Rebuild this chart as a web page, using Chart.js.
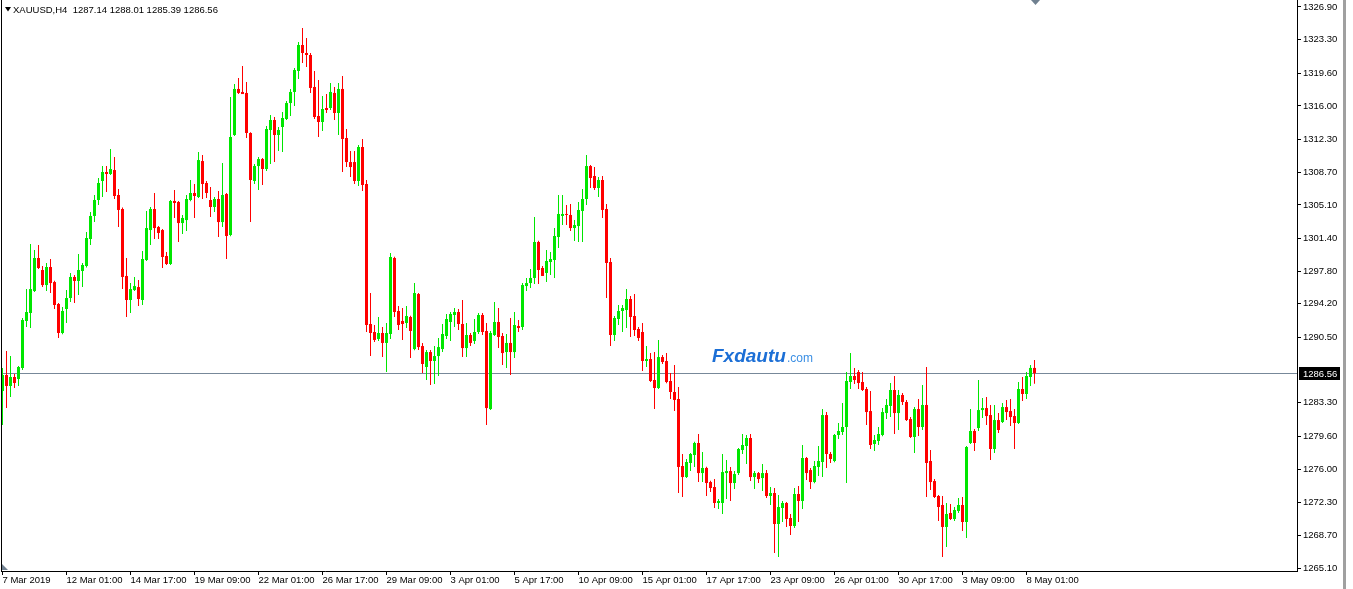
<!DOCTYPE html>
<html>
<head>
<meta charset="utf-8">
<title>XAUUSD H4</title>
<script src="https://cdn.jsdelivr.net/npm/chart.js@4.4.0/dist/chart.umd.min.js"></script>
<style>
  html, body { margin: 0; padding: 0; background: #fff; }
  #wrap { width: 1353px; height: 589px; }
</style>
</head>
<body>
<div id="wrap"><canvas id="chart" width="1353" height="589"></canvas></div>
<script>
const symbol = 'XAUUSD,H4';

// H4 bars, oldest first
const opens = [
  1284.60, 1286.36, 1285.15, 1286.14, 1285.92, 1287.13, 1292.31, 1293.19, 1295.61, 1299.25,
  1297.93, 1296.27, 1298.26, 1296.60, 1294.18, 1290.99, 1293.63, 1294.84, 1297.16, 1296.72,
  1297.82, 1298.37, 1301.34, 1303.88, 1305.64, 1307.73, 1308.72, 1308.50, 1308.94, 1306.19,
  1304.65, 1297.27, 1294.62, 1295.72, 1296.05, 1294.62, 1299.03, 1302.33, 1304.65, 1302.66,
  1302.33, 1299.47, 1298.59, 1305.53, 1305.42, 1303.10, 1303.43, 1305.64, 1306.41, 1305.97,
  1309.93, 1307.51, 1305.64, 1304.87, 1305.75, 1303.21, 1306.30, 1301.78, 1312.80, 1317.87,
  1317.54, 1317.43, 1313.02, 1307.73, 1309.38, 1310.15, 1309.05, 1313.35, 1314.45, 1312.80,
  1313.68, 1314.56, 1316.32, 1317.54, 1319.85, 1322.71, 1321.83, 1321.61, 1318.09, 1314.89,
  1314.23, 1315.77, 1315.77, 1317.43, 1315.22, 1317.87, 1312.47, 1309.82, 1309.82, 1307.73,
  1311.48, 1307.40, 1291.98, 1291.10, 1290.33, 1290.99, 1289.89, 1290.88, 1299.25, 1293.41,
  1292.31, 1292.09, 1292.75, 1289.22, 1295.28, 1289.55, 1287.24, 1288.89, 1287.90, 1288.45,
  1289.22, 1290.66, 1292.20, 1292.97, 1293.30, 1291.98, 1289.33, 1290.77, 1290.11, 1291.10,
  1292.97, 1291.21, 1282.61, 1290.77, 1292.20, 1290.66, 1288.89, 1289.89, 1288.89, 1291.76,
  1291.65, 1296.16, 1296.49, 1297.05, 1301.01, 1298.15, 1297.60, 1298.81, 1299.03, 1301.56,
  1303.88, 1304.10, 1303.99, 1302.55, 1302.77, 1304.43, 1305.75, 1309.38, 1308.28, 1306.96,
  1307.84, 1304.65, 1298.81, 1290.77, 1292.53, 1293.41, 1293.52, 1294.73, 1292.86, 1291.43,
  1291.10, 1287.90, 1288.12, 1285.81, 1284.93, 1288.34, 1287.90, 1285.70, 1284.49, 1283.72,
  1276.34, 1275.12, 1276.67, 1277.55, 1278.87, 1275.56, 1276.12, 1274.57, 1274.02, 1272.26,
  1272.26, 1275.56, 1275.78, 1274.46, 1275.56, 1278.10, 1278.54, 1279.42, 1275.12, 1275.56,
  1275.01, 1275.56, 1273.03, 1273.36, 1269.95, 1271.71, 1272.26, 1270.61, 1269.73, 1273.25,
  1272.48, 1277.22, 1275.89, 1274.57, 1276.23, 1276.78, 1281.95, 1277.66, 1276.89, 1279.75,
  1280.08, 1280.63, 1285.59, 1286.25, 1286.69, 1285.59, 1284.82, 1282.39, 1278.76, 1279.09,
  1279.75, 1282.17, 1282.95, 1284.71, 1282.17, 1284.16, 1283.39, 1281.51, 1279.53, 1282.61,
  1280.63, 1283.06, 1276.89, 1274.68, 1273.03, 1272.04, 1269.62, 1271.16, 1270.50, 1271.38,
  1272.04, 1270.17, 1278.87, 1280.19, 1280.52, 1282.50, 1282.72, 1281.95, 1278.21, 1281.40,
  1281.18, 1282.83, 1282.39, 1281.84, 1281.07, 1284.82, 1284.27, 1286.14, 1287.14
];
const highs = [
  1287.13, 1289.00, 1288.45, 1286.47, 1287.35, 1292.64, 1295.83, 1300.79, 1300.13, 1300.68,
  1298.37, 1298.70, 1299.14, 1296.75, 1294.29, 1293.85, 1295.72, 1297.60, 1297.38, 1299.69,
  1298.70, 1302.11, 1304.32, 1306.19, 1308.06, 1309.38, 1309.38, 1311.26, 1310.37, 1306.85,
  1304.80, 1299.25, 1296.49, 1297.16, 1296.83, 1300.02, 1304.43, 1304.87, 1306.41, 1302.77,
  1302.44, 1299.91, 1305.64, 1306.74, 1305.53, 1303.99, 1306.19, 1307.84, 1307.40, 1310.93,
  1310.60, 1307.73, 1307.07, 1305.97, 1306.63, 1309.71, 1306.41, 1316.98, 1318.42, 1319.08,
  1320.40, 1318.64, 1313.10, 1309.60, 1310.37, 1310.26, 1313.79, 1315.00, 1314.78, 1313.68,
  1315.33, 1316.54, 1317.87, 1320.18, 1323.04, 1324.59, 1323.48, 1321.83, 1319.85, 1318.86,
  1317.09, 1317.31, 1318.53, 1318.09, 1318.53, 1319.30, 1313.46, 1311.04, 1311.04, 1311.70,
  1312.36, 1307.84, 1295.39, 1291.87, 1292.75, 1291.65, 1292.09, 1299.80, 1299.40, 1293.96,
  1293.74, 1293.96, 1292.90, 1296.49, 1295.39, 1289.89, 1289.11, 1289.11, 1289.55, 1290.44,
  1291.98, 1293.08, 1293.30, 1293.74, 1293.63, 1294.62, 1292.09, 1290.99, 1292.53, 1293.19,
  1293.19, 1292.09, 1291.21, 1294.40, 1293.74, 1290.99, 1290.88, 1292.64, 1293.30, 1292.42,
  1296.49, 1297.05, 1298.04, 1303.77, 1301.15, 1298.37, 1300.13, 1299.91, 1302.55, 1306.19,
  1306.19, 1305.09, 1305.20, 1303.43, 1305.42, 1306.85, 1310.60, 1309.50, 1309.27, 1308.17,
  1308.28, 1305.20, 1299.25, 1292.86, 1294.07, 1294.07, 1295.83, 1295.06, 1295.28, 1291.65,
  1292.09, 1289.55, 1288.78, 1288.89, 1290.22, 1288.56, 1288.78, 1286.58, 1287.46, 1285.04,
  1277.66, 1277.11, 1277.77, 1279.00, 1279.86, 1277.88, 1276.25, 1274.70, 1274.90, 1272.70,
  1277.66, 1277.00, 1276.23, 1275.78, 1278.32, 1279.86, 1279.75, 1279.86, 1275.78, 1275.67,
  1276.56, 1275.89, 1274.02, 1273.91, 1273.14, 1272.48, 1272.37, 1271.05, 1273.91, 1274.13,
  1278.65, 1277.33, 1276.12, 1276.89, 1278.54, 1282.61, 1282.28, 1277.88, 1279.86, 1281.07,
  1283.28, 1286.69, 1288.78, 1287.13, 1286.91, 1286.69, 1285.04, 1284.60, 1279.75, 1280.63,
  1282.72, 1283.72, 1285.48, 1286.25, 1284.71, 1284.38, 1283.61, 1281.73, 1282.83, 1283.72,
  1285.26, 1287.24, 1278.10, 1274.90, 1273.14, 1273.03, 1272.26, 1272.15, 1271.82, 1272.81,
  1272.92, 1278.55, 1282.61, 1280.41, 1285.81, 1283.83, 1283.94, 1283.06, 1283.06, 1282.17,
  1283.28, 1283.61, 1283.72, 1282.61, 1285.59, 1286.14, 1286.69, 1287.46, 1288.01
];
const lows = [
  1280.85, 1282.72, 1283.94, 1284.93, 1285.15, 1286.91, 1291.65, 1291.54, 1295.50, 1298.04,
  1296.05, 1295.61, 1295.39, 1293.63, 1290.44, 1290.85, 1292.09, 1294.40, 1294.29, 1295.17,
  1296.05, 1298.20, 1300.68, 1303.21, 1305.09, 1305.97, 1306.52, 1308.40, 1305.75, 1302.66,
  1295.83, 1292.75, 1293.19, 1295.61, 1293.96, 1294.07, 1298.92, 1300.68, 1301.34, 1301.34,
  1298.15, 1298.48, 1298.48, 1303.66, 1301.01, 1301.89, 1302.22, 1305.50, 1303.66, 1305.85,
  1305.75, 1305.86, 1303.77, 1304.32, 1301.56, 1302.66, 1299.14, 1301.65, 1312.70, 1317.31,
  1317.31, 1312.47, 1303.21, 1307.40, 1306.74, 1307.29, 1308.83, 1309.60, 1309.82, 1311.04,
  1310.93, 1314.45, 1314.89, 1315.99, 1318.97, 1320.73, 1320.29, 1317.43, 1314.56, 1312.58,
  1313.24, 1315.22, 1315.55, 1314.45, 1312.80, 1308.72, 1309.27, 1308.17, 1307.40, 1307.18,
  1306.63, 1291.10, 1288.45, 1290.00, 1290.11, 1288.34, 1286.69, 1290.33, 1292.75, 1291.32,
  1290.22, 1291.54, 1288.23, 1289.10, 1289.11, 1286.58, 1285.81, 1285.26, 1285.37, 1286.25,
  1288.89, 1290.33, 1290.11, 1291.65, 1291.32, 1288.34, 1288.34, 1289.55, 1289.77, 1290.88,
  1290.77, 1280.85, 1282.50, 1290.65, 1289.33, 1287.46, 1287.13, 1286.36, 1288.23, 1291.10,
  1291.32, 1295.61, 1295.94, 1296.38, 1296.38, 1297.27, 1296.60, 1297.38, 1297.05, 1300.35,
  1302.88, 1302.88, 1302.22, 1301.12, 1301.01, 1301.01, 1305.09, 1306.96, 1306.74, 1305.97,
  1303.66, 1294.84, 1289.55, 1290.11, 1291.87, 1291.10, 1291.54, 1290.55, 1290.66, 1290.11,
  1286.80, 1287.24, 1285.59, 1282.61, 1284.82, 1287.57, 1285.45, 1283.72, 1282.39, 1273.36,
  1272.92, 1275.01, 1275.78, 1276.23, 1274.57, 1274.57, 1273.03, 1273.47, 1271.71, 1271.60,
  1271.05, 1272.70, 1272.48, 1273.80, 1275.34, 1277.66, 1276.56, 1274.68, 1273.80, 1274.46,
  1273.58, 1272.81, 1272.04, 1266.75, 1266.31, 1270.17, 1269.62, 1268.73, 1269.51, 1270.17,
  1271.60, 1274.79, 1273.80, 1274.45, 1275.23, 1275.12, 1276.12, 1276.67, 1276.75, 1279.31,
  1279.75, 1274.46, 1284.82, 1285.37, 1284.82, 1284.60, 1280.85, 1278.21, 1277.99, 1278.65,
  1279.60, 1281.51, 1281.73, 1279.86, 1280.30, 1283.06, 1281.30, 1279.42, 1277.77, 1279.64,
  1280.30, 1272.92, 1273.69, 1272.81, 1270.28, 1266.31, 1267.41, 1270.39, 1270.28, 1271.16,
  1269.18, 1268.40, 1278.75, 1277.99, 1280.19, 1281.62, 1280.85, 1277.00, 1277.77, 1279.97,
  1281.07, 1281.40, 1280.74, 1278.21, 1280.95, 1283.50, 1283.72, 1285.15, 1285.39
];
const closes = [
  1286.36, 1285.15, 1286.14, 1285.48, 1287.24, 1292.42, 1293.30, 1295.83, 1299.25, 1298.15,
  1296.27, 1298.26, 1296.49, 1294.07, 1290.99, 1293.41, 1294.84, 1297.16, 1296.72, 1297.93,
  1298.48, 1301.45, 1303.88, 1305.64, 1307.51, 1308.72, 1308.50, 1309.05, 1306.08, 1304.54,
  1297.16, 1294.62, 1295.83, 1296.16, 1294.73, 1299.14, 1302.55, 1304.65, 1302.55, 1302.00,
  1299.36, 1298.59, 1305.53, 1305.31, 1303.10, 1303.66, 1305.75, 1306.41, 1306.08, 1310.04,
  1307.40, 1306.41, 1304.87, 1305.75, 1303.21, 1306.19, 1301.67, 1312.58, 1317.87, 1317.43,
  1317.31, 1313.02, 1307.84, 1309.38, 1310.15, 1309.05, 1313.46, 1314.45, 1312.80, 1313.35,
  1314.67, 1316.32, 1317.54, 1319.96, 1322.71, 1321.83, 1321.61, 1317.98, 1314.78, 1314.23,
  1315.66, 1315.55, 1317.54, 1315.22, 1317.87, 1312.36, 1309.82, 1309.27, 1307.73, 1311.48,
  1307.29, 1291.87, 1290.99, 1290.22, 1290.99, 1289.89, 1290.99, 1299.36, 1293.30, 1291.87,
  1291.98, 1292.86, 1291.21, 1295.39, 1289.44, 1287.57, 1288.89, 1287.90, 1288.45, 1289.44,
  1290.88, 1292.53, 1293.08, 1293.30, 1291.98, 1289.33, 1290.77, 1289.89, 1291.10, 1292.97,
  1291.10, 1282.72, 1290.99, 1292.20, 1290.55, 1288.78, 1289.89, 1288.89, 1291.87, 1291.54,
  1296.27, 1296.49, 1297.05, 1301.01, 1297.93, 1297.27, 1298.92, 1299.14, 1301.67, 1304.10,
  1304.10, 1303.99, 1302.55, 1302.88, 1304.54, 1305.75, 1309.38, 1308.06, 1306.96, 1307.84,
  1304.54, 1298.70, 1290.77, 1292.64, 1293.41, 1293.74, 1294.73, 1292.75, 1291.32, 1290.44,
  1287.90, 1288.12, 1285.70, 1284.93, 1288.34, 1287.79, 1285.59, 1284.49, 1283.61, 1276.23,
  1275.12, 1276.78, 1277.66, 1278.87, 1275.56, 1276.12, 1274.46, 1273.91, 1272.26, 1272.48,
  1275.67, 1275.78, 1274.46, 1275.45, 1278.21, 1278.65, 1279.42, 1275.12, 1275.56, 1274.90,
  1275.56, 1273.03, 1273.36, 1269.95, 1271.82, 1272.26, 1270.50, 1269.73, 1273.25, 1272.48,
  1277.22, 1275.56, 1274.57, 1276.34, 1276.89, 1281.95, 1277.66, 1277.11, 1279.75, 1280.19,
  1280.63, 1285.70, 1286.25, 1285.81, 1285.48, 1284.71, 1282.28, 1278.65, 1279.20, 1279.86,
  1282.28, 1283.06, 1284.71, 1282.17, 1284.16, 1283.39, 1281.40, 1279.53, 1282.61, 1280.63,
  1283.06, 1276.67, 1274.57, 1272.92, 1271.82, 1269.62, 1271.05, 1270.50, 1271.49, 1272.04,
  1270.17, 1278.43, 1280.19, 1278.87, 1282.50, 1282.72, 1281.84, 1278.21, 1281.40, 1280.30,
  1282.83, 1282.28, 1281.73, 1281.07, 1284.82, 1284.27, 1286.25, 1287.14, 1286.56
];

// time axis labels, one every 16 bars
const dateLabels = [
  '7 Mar 2019', '12 Mar 01:00', '14 Mar 17:00', '19 Mar 09:00', '22 Mar 01:00',
  '26 Mar 17:00', '29 Mar 09:00', '3 Apr 01:00', '5 Apr 17:00', '10 Apr 09:00',
  '15 Apr 01:00', '17 Apr 17:00', '23 Apr 09:00', '26 Apr 01:00', '30 Apr 17:00',
  '3 May 09:00', '8 May 01:00'
];
const barsPerLabel = 16;

const priceTicks = [
  1326.90, 1323.30, 1319.60, 1316.00, 1312.30, 1308.70, 1305.10, 1301.40, 1297.80,
  1294.20, 1290.50, 1283.30, 1279.60, 1276.00, 1272.30, 1268.70, 1265.10
];

const UP = '#00e600';
const DOWN = '#ff0000';
const FONT = '"Liberation Sans", Arial, sans-serif';

const last = opens.length - 1;
const lastPrice = closes[last];
const header = symbol + '  ' + [opens[last], highs[last], lows[last], closes[last]].map(v => v.toFixed(2)).join(' ');

const barColor = ctx => closes[ctx.dataIndex] >= opens[ctx.dataIndex] ? UP : DOWN;

const overlay = {
  id: 'overlay',
  beforeDatasetsDraw(chart) {
    const { ctx, chartArea: a, scales: { y } } = chart;
    const py = Math.round(y.getPixelForValue(lastPrice)) + 0.5;
    ctx.save();
    // bid line
    ctx.strokeStyle = '#778899';
    ctx.lineWidth = 1;
    ctx.beginPath();
    ctx.moveTo(a.left, py);
    ctx.lineTo(a.right, py);
    ctx.stroke();
    // watermark
    ctx.textBaseline = 'alphabetic';
    ctx.font = 'italic bold 19px ' + FONT;
    ctx.fillStyle = '#1c6fd6';
    ctx.fillText('Fxdautu', 712, 362);
    const w = ctx.measureText('Fxdautu').width;
    ctx.font = '12px ' + FONT;
    ctx.fillStyle = '#3b8fe4';
    ctx.fillText('.com', 712 + w + 1, 362);
    ctx.restore();
  },
  afterDraw(chart) {
    const { ctx, chartArea: a, scales: { y } } = chart;
    ctx.save();
    ctx.fillStyle = '#000';
    ctx.fillRect(1, 0, 1, a.bottom);

    // symbol header
    ctx.beginPath();
    ctx.moveTo(5, 7);
    ctx.lineTo(11, 7);
    ctx.lineTo(8, 11.5);
    ctx.closePath();
    ctx.fill();
    ctx.font = '9.5px ' + FONT;
    ctx.textBaseline = 'alphabetic';
    ctx.fillText(header, 13, 12.5);

    // last price tag
    const py = Math.round(y.getPixelForValue(lastPrice));
    ctx.fillRect(a.right + 2, py - 6, 41, 13);
    ctx.fillStyle = '#fff';
    ctx.textBaseline = 'middle';
    ctx.fillText(lastPrice.toFixed(2), a.right + 6, py + 1);

    // shift marker, corner marker, scrollbar edge
    ctx.fillStyle = '#708090';
    ctx.beginPath();
    ctx.moveTo(1031, 0);
    ctx.lineTo(1040, 0);
    ctx.lineTo(1035.5, 5);
    ctx.closePath();
    ctx.fill();
    ctx.beginPath();
    ctx.moveTo(2, 564);
    ctx.lineTo(2, 570);
    ctx.lineTo(8, 570);
    ctx.closePath();
    ctx.fill();
    ctx.fillStyle = '#a0a0a0';
    ctx.fillRect(1343, 0, 3, 589);
    ctx.restore();
  }
};

new Chart(document.getElementById('chart'), {
  type: 'bar',
  data: {
    datasets: [
      {
        label: 'body',
        data: opens.map((o, i) => ({ x: i, y: [o, closes[i]] })),
        backgroundColor: barColor,
        barThickness: 3,
        minBarLength: 1,
        grouped: false,
        borderWidth: 0,
        inflateAmount: 0
      },
      {
        label: 'wick',
        data: lows.map((l, i) => ({ x: i, y: [l, highs[i]] })),
        backgroundColor: barColor,
        barThickness: 1,
        grouped: false,
        borderWidth: 0,
        inflateAmount: 0
      }
    ]
  },
  options: {
    responsive: false,
    animation: false,
    events: [],
    layout: { padding: { left: 1, top: 0, right: 0, bottom: 0 }, autoPadding: false },
    plugins: {
      legend: { display: false },
      tooltip: { enabled: false }
    },
    scales: {
      x: {
        type: 'linear',
        min: -0.375,
        max: 323.625,
        offset: false,
        bounds: 'data',
        afterBuildTicks: s => { s.ticks = dateLabels.map((_, i) => ({ value: i * barsPerLabel })); },
        afterFit: s => { s.height = 18; s.paddingLeft = 0; s.paddingRight = 0; },
        ticks: {
          autoSkip: false,
          maxRotation: 0,
          align: 'start',
          padding: 0,
          color: '#000',
          font: { family: FONT, size: 9.5 },
          callback: (v, i) => dateLabels[i]
        },
        grid: { drawOnChartArea: false, drawTicks: true, tickLength: 4, color: '#000', offset: false },
        border: { display: true, color: '#000' }
      },
      y: {
        position: 'right',
        min: 1264.77,
        max: 1327.67,
        bounds: 'data',
        beginAtZero: false,
        afterBuildTicks: s => { s.ticks = priceTicks.map(v => ({ value: v })); },
        afterFit: s => { s.width = 56; s.paddingTop = 0; s.paddingBottom = 0; },
        ticks: {
          autoSkip: false,
          padding: 2,
          color: '#000',
          font: { family: FONT, size: 9.5 },
          callback: v => v.toFixed(2)
        },
        grid: { drawOnChartArea: false, drawTicks: true, tickLength: 4, color: '#000' },
        border: { display: true, color: '#000' }
      }
    }
  },
  plugins: [overlay]
});
</script>
</body>
</html>
